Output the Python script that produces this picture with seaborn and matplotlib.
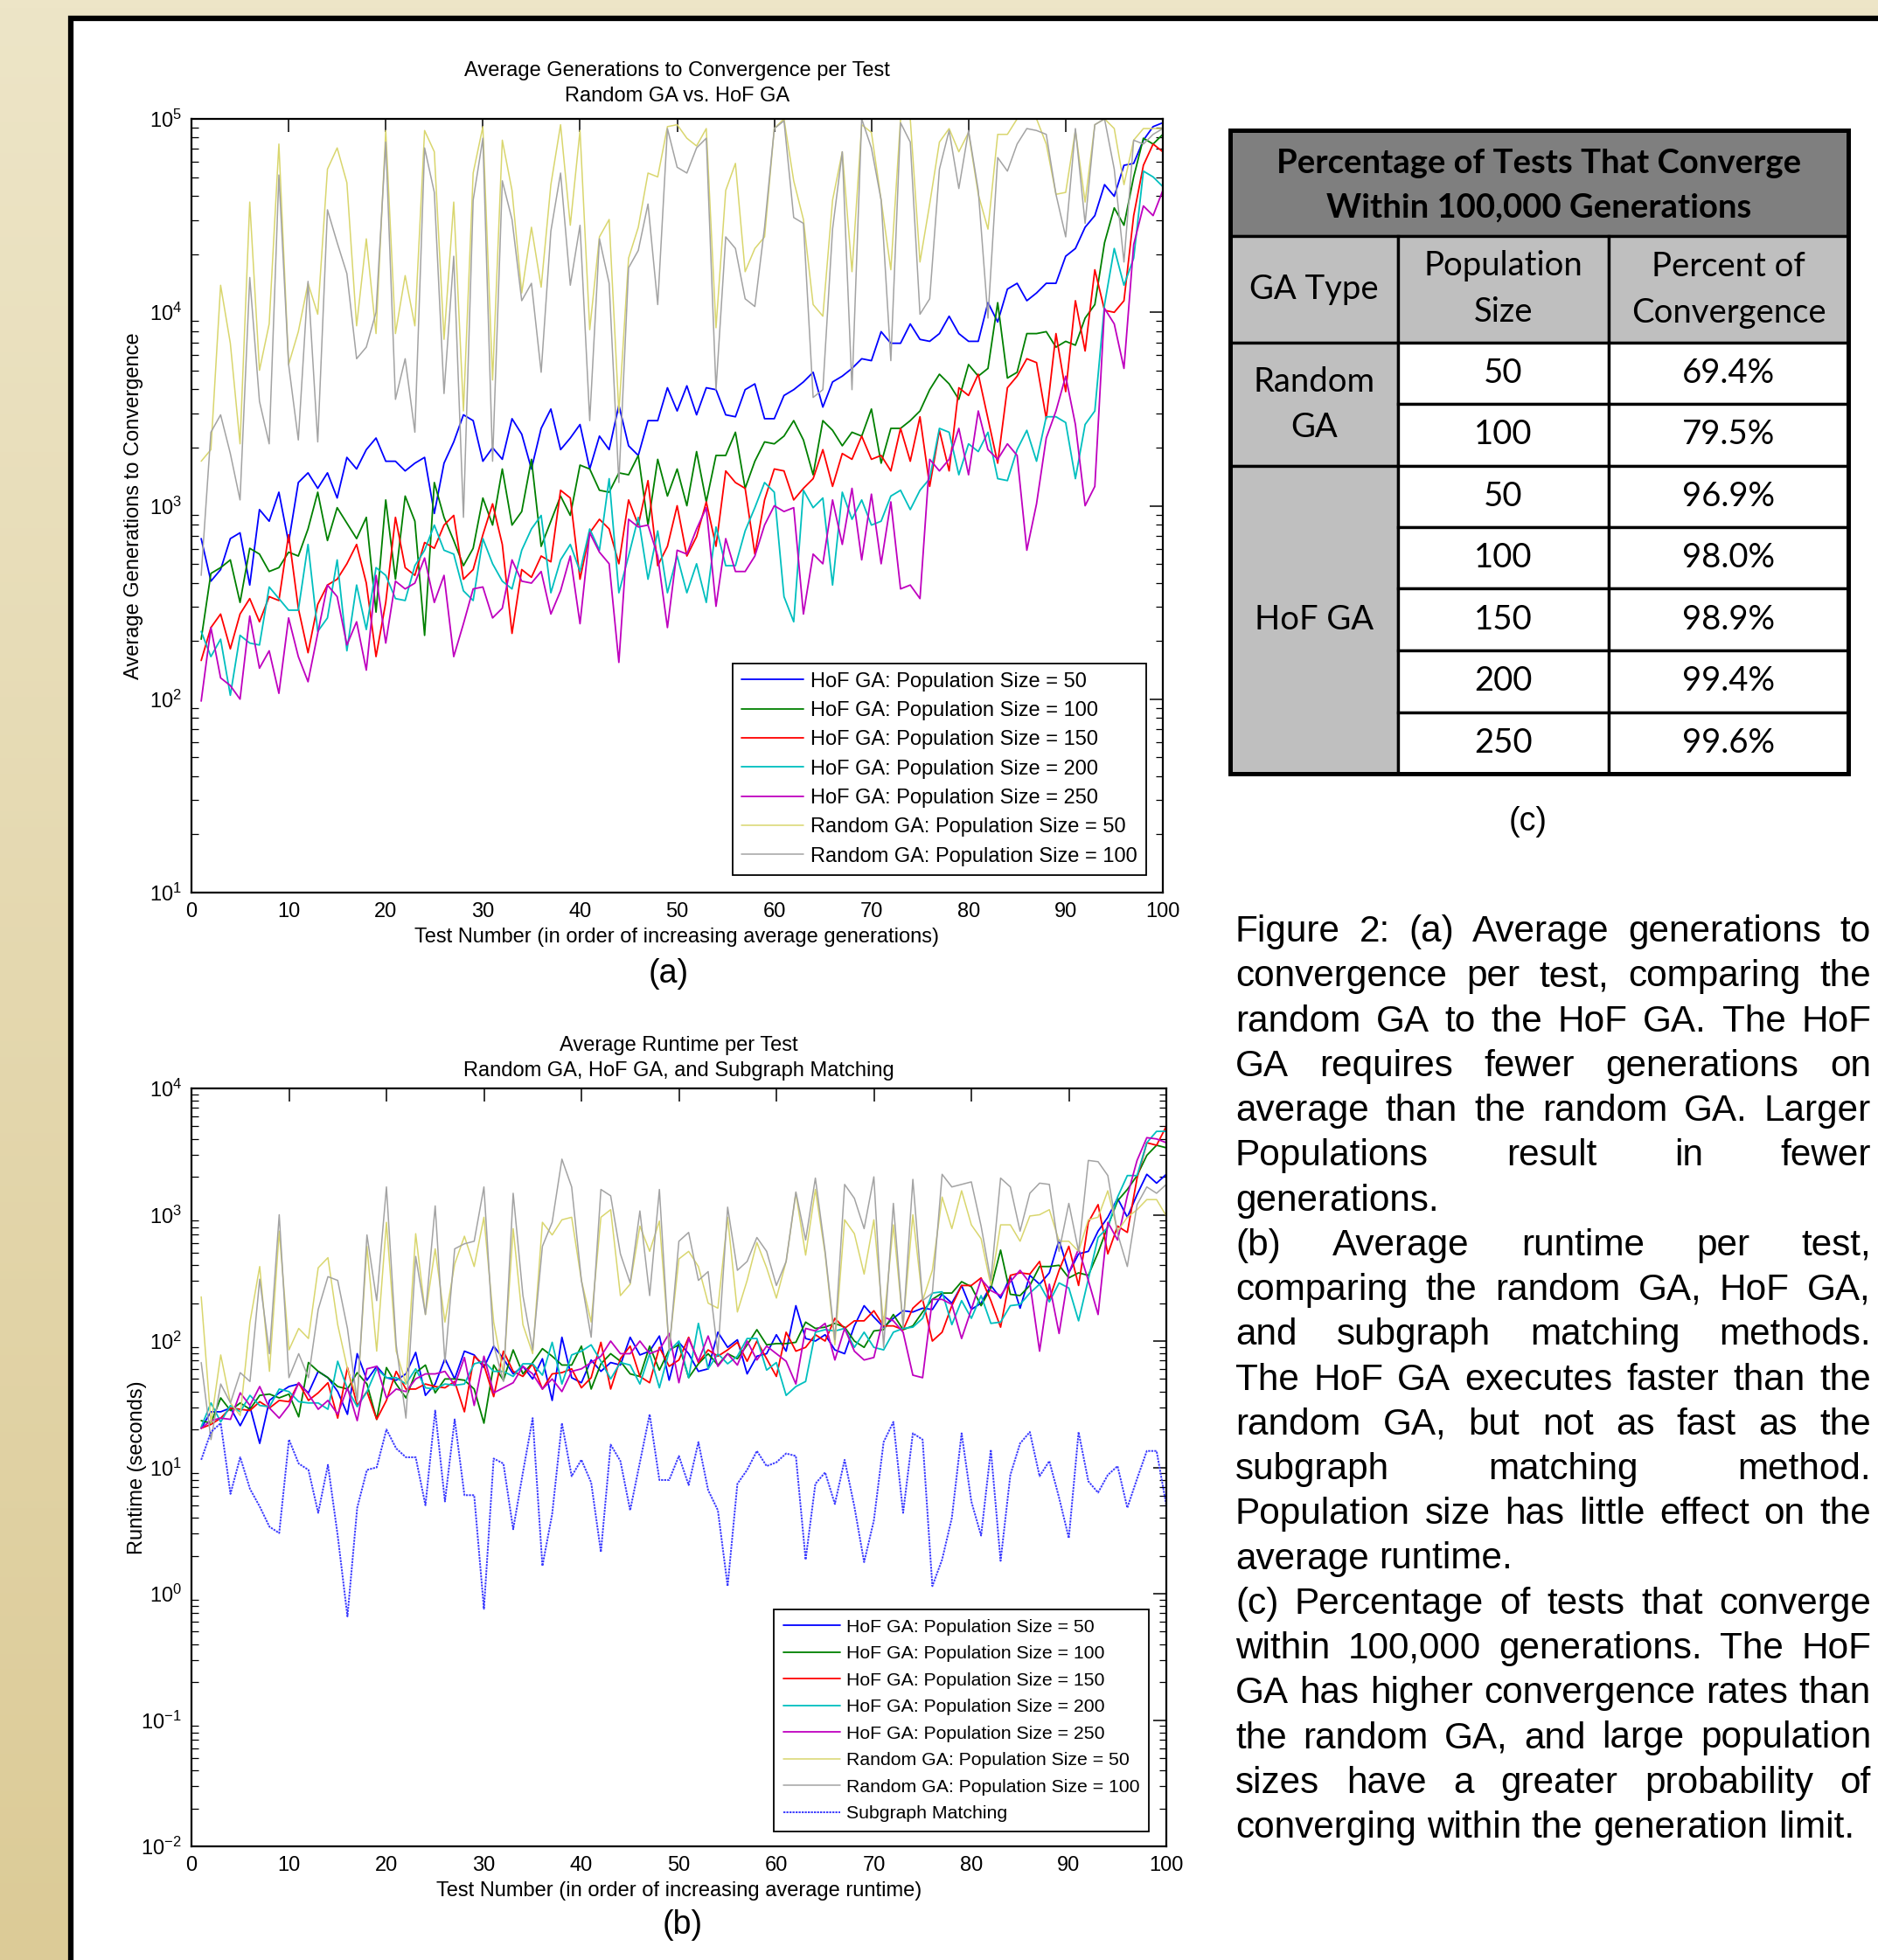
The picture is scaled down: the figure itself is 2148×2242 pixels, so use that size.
import numpy as np
import seaborn as sns
import matplotlib.pyplot as plt
from matplotlib.patches import Rectangle
from matplotlib.colors import LinearSegmentedColormap
from matplotlib.ticker import LogLocator, NullFormatter

W, H = 2148, 2242
tests = np.arange(1, 101)

# ------------------------------------------------------------
# (a) average generations to convergence
#     (values stored as log10 of generations)
# ------------------------------------------------------------
gen_hof50_log = [
    2.83, 2.61, 2.67, 2.83, 2.86, 2.59, 2.98, 2.92, 3.07, 2.81,
    3.12, 3.17, 3.09, 3.17, 3.04, 3.25, 3.19, 3.29, 3.35, 3.23,
    3.23, 3.18, 3.22, 3.25, 2.96, 3.22, 3.33, 3.47, 3.44, 3.23,
    3.30, 3.24, 3.45, 3.37, 3.19, 3.40, 3.50, 3.29, 3.35, 3.42,
    3.19, 3.36, 3.29, 3.52, 3.31, 3.26, 3.44, 3.44, 3.61, 3.49,
    3.62, 3.47, 3.61, 3.60, 3.47, 3.46, 3.60, 3.63, 3.45, 3.45,
    3.57, 3.60, 3.64, 3.69, 3.51, 3.64, 3.67, 3.71, 3.76, 3.75,
    3.90, 3.84, 3.84, 3.94, 3.86, 3.85, 3.89, 3.98, 3.89, 3.85,
    3.85, 4.05, 3.95, 4.12, 4.15, 4.06, 4.10, 4.15, 4.15, 4.29,
    4.33, 4.44, 4.50, 4.66, 4.60, 4.76, 4.77, 4.89, 4.96, 4.98]
gen_hof100_log = [
    2.31, 2.65, 2.68, 2.72, 2.50, 2.78, 2.75, 2.66, 2.68, 2.76,
    2.74, 2.88, 3.07, 2.82, 2.99, 2.91, 2.83, 2.94, 2.45, 3.03,
    2.62, 3.05, 2.92, 2.33, 3.12, 2.94, 2.82, 2.69, 2.78, 3.04,
    2.90, 3.19, 2.90, 2.97, 3.24, 2.79, 2.92, 3.05, 2.95, 3.21,
    3.19, 3.08, 3.07, 3.17, 3.16, 3.26, 2.90, 3.24, 3.05, 3.19,
    3.00, 3.28, 3.02, 3.26, 3.26, 3.38, 3.09, 3.23, 3.33, 3.32,
    3.36, 3.44, 3.34, 3.16, 3.44, 3.39, 3.31, 3.38, 3.36, 3.50,
    3.22, 3.40, 3.40, 3.44, 3.49, 3.60, 3.68, 3.63, 3.55, 3.73,
    3.67, 3.71, 4.05, 3.66, 3.69, 3.89, 3.89, 3.90, 3.82, 3.85,
    3.83, 3.97, 4.04, 4.36, 4.54, 4.45, 4.70, 4.90, 4.87, 4.92]
gen_hof150_log = [
    2.20, 2.37, 2.44, 2.26, 2.44, 2.52, 2.40, 2.53, 2.51, 2.85,
    2.47, 2.24, 2.49, 2.59, 2.62, 2.70, 2.80, 2.60, 2.22, 2.50,
    2.94, 2.68, 2.64, 2.81, 2.78, 2.90, 2.95, 2.62, 2.67, 2.85,
    3.01, 2.80, 2.34, 2.67, 2.63, 2.74, 2.71, 3.08, 3.04, 2.62,
    2.86, 2.93, 2.88, 2.70, 3.03, 2.90, 3.13, 2.69, 2.79, 3.00,
    2.74, 2.84, 3.02, 2.79, 3.18, 3.12, 3.09, 2.75, 3.03, 3.19,
    3.18, 3.03, 3.09, 3.14, 3.29, 3.10, 3.27, 3.24, 3.36, 3.24,
    3.26, 3.18, 3.40, 3.23, 3.46, 3.10, 3.39, 3.18, 3.61, 3.57,
    3.68, 3.45, 3.22, 3.61, 3.67, 3.76, 3.74, 3.45, 3.89, 3.59,
    4.06, 3.80, 4.22, 4.01, 4.00, 4.06, 4.50, 4.76, 4.87, 4.83]
gen_hof200_log = [
    2.35, 2.22, 2.31, 2.02, 2.33, 2.29, 2.28, 2.58, 2.52, 2.46,
    2.46, 2.80, 2.35, 2.42, 2.72, 2.25, 2.59, 2.36, 2.68, 2.64,
    2.52, 2.51, 2.69, 2.77, 2.90, 2.77, 2.75, 2.56, 2.51, 2.83,
    2.70, 2.61, 2.57, 2.77, 2.88, 2.95, 2.55, 2.72, 2.80, 2.66,
    2.88, 2.77, 3.14, 2.55, 2.74, 2.94, 2.62, 2.87, 2.55, 2.74,
    2.55, 2.70, 2.50, 2.89, 2.69, 2.69, 2.87, 2.99, 3.12, 3.07,
    2.53, 2.40, 3.08, 2.99, 3.04, 2.59, 3.07, 2.93, 3.03, 2.90,
    2.92, 3.05, 3.08, 2.98, 3.08, 3.14, 3.40, 3.38, 3.16, 3.32,
    3.28, 3.38, 3.14, 3.13, 3.29, 3.39, 3.23, 3.46, 3.46, 3.43,
    3.14, 3.42, 3.49, 4.04, 4.33, 4.14, 4.28, 4.73, 4.70, 4.65]
gen_hof250_log = [
    1.99, 2.37, 2.11, 2.07, 2.00, 2.43, 2.16, 2.25, 2.03, 2.42,
    2.22, 2.09, 2.34, 2.59, 2.53, 2.28, 2.40, 2.15, 2.64, 2.29,
    2.61, 2.57, 2.60, 2.73, 2.50, 2.64, 2.22, 2.39, 2.57, 2.58,
    2.42, 2.47, 2.72, 2.61, 2.60, 2.66, 2.44, 2.56, 2.74, 2.39,
    2.86, 2.76, 2.70, 2.19, 2.93, 2.89, 2.90, 2.74, 2.37, 2.77,
    2.75, 2.88, 2.99, 2.48, 2.83, 2.66, 2.66, 2.74, 2.90, 3.00,
    2.97, 2.99, 2.44, 2.75, 2.70, 3.03, 2.80, 3.09, 2.72, 3.06,
    2.70, 3.02, 2.57, 2.59, 2.52, 3.24, 3.18, 3.24, 3.40, 3.16,
    3.49, 3.29, 3.24, 3.32, 3.26, 2.77, 3.01, 3.35, 3.49, 3.67,
    3.42, 3.00, 3.10, 4.02, 3.94, 3.71, 4.35, 4.55, 4.50, 4.63]
gen_rand50_log = [
    3.23, 3.29, 4.14, 3.84, 3.32, 4.57, 3.70, 3.94, 4.87, 3.73,
    3.90, 4.15, 3.99, 4.74, 4.85, 4.67, 3.93, 4.38, 3.89, 4.94,
    3.89, 4.19, 3.93, 4.94, 4.83, 3.86, 4.57, 3.49, 4.72, 4.96,
    3.65, 4.89, 4.63, 4.10, 4.44, 4.13, 4.66, 4.97, 4.45, 4.94,
    3.91, 4.39, 4.48, 3.48, 4.28, 4.44, 4.72, 4.70, 4.96, 4.97,
    4.90, 4.86, 4.95, 3.92, 4.63, 4.77, 4.21, 4.33, 4.39, 4.95,
    5.00, 4.68, 4.48, 4.04, 3.98, 4.58, 4.83, 4.21, 4.97, 4.93,
    4.58, 4.22, 5.00, 5.00, 4.26, 4.56, 4.88, 4.95, 4.83, 4.93,
    4.61, 4.43, 4.92, 4.92, 5.00, 5.00, 5.00, 4.87, 4.61, 4.62,
    4.94, 4.57, 4.97, 5.00, 4.95, 4.66, 4.89, 4.95, 4.95, 4.95]
gen_rand100_log = [
    2.64, 3.38, 3.47, 3.27, 3.03, 4.18, 3.54, 3.32, 4.71, 3.73,
    3.34, 4.16, 3.33, 4.53, 4.36, 4.20, 3.76, 3.82, 4.00, 4.88,
    3.55, 3.76, 3.38, 4.85, 4.62, 3.58, 4.29, 2.94, 4.58, 4.90,
    3.23, 4.68, 4.48, 4.06, 4.15, 3.69, 4.42, 4.72, 4.14, 4.45,
    3.44, 4.38, 4.15, 3.12, 4.23, 4.32, 4.56, 4.04, 4.95, 4.75,
    4.72, 4.85, 4.90, 3.60, 4.39, 4.33, 4.07, 4.03, 4.44, 4.95,
    4.99, 4.49, 4.46, 3.56, 3.60, 4.43, 4.83, 3.60, 5.00, 4.85,
    4.58, 3.75, 4.98, 4.88, 3.99, 4.07, 4.74, 4.94, 4.64, 4.94,
    4.63, 3.97, 4.80, 4.73, 4.87, 4.95, 4.94, 4.92, 4.61, 4.39,
    4.95, 4.46, 4.97, 5.00, 4.74, 4.26, 4.89, 4.87, 4.92, 4.95]

# ------------------------------------------------------------
# (b) average runtime in seconds (log10 of seconds)
# ------------------------------------------------------------
rt_hof50_log = [
    1.31, 1.44, 1.44, 1.47, 1.33, 1.48, 1.19, 1.53, 1.59, 1.64,
    1.66, 1.59, 1.76, 1.71, 1.60, 1.42, 1.90, 1.69, 1.80, 1.71,
    1.69, 1.74, 1.91, 1.57, 1.66, 1.86, 1.70, 1.92, 1.89, 1.79,
    1.96, 1.86, 1.74, 1.80, 1.70, 1.86, 1.53, 2.03, 1.71, 1.67,
    1.85, 1.76, 1.83, 1.81, 2.03, 1.89, 1.92, 2.04, 1.69, 1.99,
    1.90, 1.76, 1.78, 2.07, 1.95, 2.01, 1.74, 1.88, 1.90, 2.05,
    1.92, 2.28, 2.02, 2.00, 2.05, 1.93, 1.90, 2.12, 2.28, 2.19,
    2.11, 2.18, 2.24, 2.23, 2.26, 2.25, 2.37, 2.30, 2.44, 2.25,
    2.30, 2.44, 2.34, 2.51, 2.26, 2.52, 2.45, 2.54, 2.80, 2.54,
    2.69, 2.71, 2.87, 2.98, 3.13, 2.98, 3.16, 3.32, 3.25, 3.32]
rt_hof100_log = [
    1.37, 1.35, 1.55, 1.45, 1.51, 1.46, 1.57, 1.58, 1.55, 1.58,
    1.40, 1.83, 1.76, 1.71, 1.64, 1.62, 1.75, 1.66, 1.38, 1.79,
    1.66, 1.55, 1.75, 1.81, 1.59, 1.70, 1.70, 1.69, 1.62, 1.35,
    1.81, 1.69, 1.93, 1.74, 1.83, 1.94, 1.88, 1.81, 1.81, 1.96,
    1.62, 1.82, 1.90, 1.84, 1.74, 1.72, 1.96, 1.77, 1.93, 1.97,
    1.71, 1.82, 1.90, 1.81, 1.90, 1.86, 1.97, 2.09, 1.97, 1.98,
    1.98, 1.99, 2.15, 2.10, 2.11, 2.14, 2.11, 2.00, 1.95, 2.08,
    2.09, 2.21, 2.09, 2.12, 2.23, 2.33, 2.38, 2.38, 2.47, 2.43,
    2.28, 2.42, 2.72, 2.37, 2.36, 2.44, 2.59, 2.59, 2.60, 2.50,
    2.54, 2.52, 2.70, 2.91, 3.11, 3.20, 3.31, 3.47, 3.55, 3.53]
rt_hof150_log = [
    1.31, 1.34, 1.39, 1.47, 1.46, 1.45, 1.52, 1.47, 1.53, 1.52,
    1.67, 1.53, 1.59, 1.67, 1.39, 1.79, 1.49, 1.60, 1.38, 1.53,
    1.76, 1.62, 1.62, 1.66, 1.64, 1.63, 1.68, 1.44, 1.88, 1.81,
    1.56, 1.92, 1.76, 1.72, 1.82, 1.62, 1.74, 1.75, 1.78, 1.63,
    1.71, 1.99, 1.62, 1.86, 1.96, 1.72, 1.67, 1.95, 1.80, 1.85,
    2.03, 1.83, 1.93, 1.88, 1.93, 1.99, 1.84, 2.00, 1.86, 1.72,
    2.07, 1.92, 1.95, 2.05, 2.00, 2.18, 2.10, 2.16, 2.16, 2.24,
    2.12, 2.12, 2.09, 2.26, 2.33, 2.00, 2.07, 2.28, 2.44, 2.44,
    2.50, 2.32, 2.11, 2.52, 2.54, 2.53, 2.63, 2.33, 2.56, 2.75,
    2.44, 2.94, 3.08, 2.69, 2.91, 2.86, 3.29, 3.57, 3.55, 3.70]
rt_hof200_log = [
    1.32, 1.51, 1.36, 1.49, 1.44, 1.57, 1.49, 1.48, 1.62, 1.60,
    1.52, 1.51, 1.51, 1.46, 1.84, 1.62, 1.48, 1.60, 1.78, 1.71,
    1.71, 1.66, 1.78, 1.63, 1.62, 1.66, 1.65, 1.66, 1.82, 1.84,
    1.76, 1.76, 1.72, 1.82, 1.82, 1.73, 1.99, 1.66, 1.89, 1.92,
    1.97, 1.84, 1.70, 1.83, 1.81, 1.66, 1.90, 1.63, 1.92, 2.00,
    1.71, 2.14, 1.78, 1.90, 1.82, 1.88, 2.02, 2.02, 1.77, 1.83,
    1.57, 1.64, 1.68, 2.07, 2.09, 2.08, 2.10, 1.95, 2.07, 1.95,
    1.93, 2.07, 2.10, 2.11, 2.18, 2.38, 2.39, 2.13, 2.32, 2.18,
    2.36, 2.14, 2.15, 2.28, 2.29, 2.38, 2.45, 2.31, 2.46, 2.42,
    2.16, 2.49, 2.82, 2.90, 3.14, 3.31, 3.31, 3.57, 3.66, 3.66]
rt_hof250_log = [
    1.31, 1.37, 1.39, 1.38, 1.59, 1.49, 1.64, 1.47, 1.39, 1.49,
    1.67, 1.58, 1.46, 1.53, 1.42, 1.63, 1.37, 1.78, 1.80, 1.55,
    1.62, 1.60, 1.70, 1.74, 1.74, 1.76, 1.65, 1.87, 1.49, 1.88,
    1.59, 1.63, 1.67, 1.80, 1.74, 1.62, 1.70, 1.60, 1.76, 1.78,
    1.83, 1.88, 2.00, 1.90, 1.90, 2.00, 1.90, 1.93, 2.06, 1.67,
    2.02, 1.84, 2.04, 1.80, 1.90, 1.81, 2.00, 1.85, 1.96, 1.90,
    1.84, 1.66, 2.10, 2.08, 2.14, 1.85, 2.10, 1.92, 1.85, 1.87,
    2.19, 2.16, 2.07, 1.73, 1.71, 2.33, 2.33, 2.29, 2.02, 2.25,
    2.49, 2.40, 2.36, 2.47, 2.56, 2.46, 1.92, 2.45, 2.06, 2.54,
    2.73, 2.48, 2.21, 2.94, 2.80, 3.15, 3.43, 3.61, 3.60, 3.57]
rt_rand50_log = [
    2.35, 1.35, 1.89, 1.51, 1.41, 2.15, 2.59, 1.76, 2.87, 1.93,
    2.10, 2.02, 2.58, 2.66, 2.13, 1.78, 1.55, 2.75, 1.92, 2.94,
    1.92, 1.66, 2.85, 2.21, 2.73, 2.15, 2.61, 2.83, 2.59, 2.98,
    2.15, 1.74, 2.89, 2.13, 1.90, 2.94, 2.84, 2.96, 2.98, 2.48,
    2.15, 2.98, 3.04, 2.36, 2.45, 2.91, 2.71, 2.95, 1.95, 2.65,
    2.71, 2.59, 2.30, 2.26, 2.98, 2.23, 2.48, 2.78, 2.58, 2.34,
    2.63, 3.17, 2.68, 3.20, 2.69, 1.97, 2.96, 2.85, 2.53, 2.96,
    2.13, 2.92, 2.13, 3.00, 2.32, 2.56, 3.14, 2.89, 3.19, 2.92,
    2.81, 2.44, 2.92, 2.92, 2.79, 2.99, 3.00, 3.04, 2.79, 2.79,
    2.71, 2.96, 2.98, 3.19, 2.87, 2.98, 3.04, 3.12, 3.12, 2.99]
rt_rand100_log = [
    1.83, 1.22, 1.66, 1.51, 1.75, 1.68, 2.49, 1.90, 3.00, 1.71,
    1.90, 1.71, 2.25, 2.51, 2.48, 2.10, 1.52, 2.84, 2.32, 3.22,
    1.97, 1.39, 2.67, 2.21, 3.07, 1.83, 2.73, 2.77, 2.79, 3.22,
    1.97, 1.68, 3.17, 2.36, 1.93, 2.75, 2.94, 3.44, 3.22, 2.48,
    2.03, 3.20, 3.15, 2.69, 2.46, 3.03, 2.36, 3.20, 1.92, 2.79,
    2.86, 2.48, 2.55, 1.90, 3.06, 2.56, 2.63, 2.82, 2.71, 2.44,
    2.63, 3.18, 2.80, 3.29, 2.71, 2.01, 3.24, 3.13, 2.89, 3.30,
    1.95, 3.09, 2.11, 3.28, 2.32, 2.38, 3.32, 3.22, 3.24, 3.26,
    2.91, 2.48, 3.29, 3.22, 2.87, 3.17, 3.25, 3.24, 2.71, 3.09,
    2.71, 3.43, 3.42, 3.31, 2.85, 2.59, 3.08, 3.22, 3.17, 3.24]
rt_subgraph_log = [
    1.06, 1.28, 1.35, 0.79, 1.08, 0.83, 0.69, 0.53, 0.48, 1.22,
    1.03, 0.98, 0.64, 1.02, 0.46, -0.18, 0.68, 0.98, 1.00, 1.30,
    1.15, 1.08, 1.08, 0.70, 1.45, 0.73, 1.38, 0.78, 0.78, -0.12,
    1.07, 1.03, 0.51, 0.96, 1.39, 0.22, 0.63, 1.35, 0.93, 1.06,
    0.88, 0.33, 1.18, 1.05, 0.66, 1.04, 1.42, 0.90, 0.90, 1.09,
    0.86, 1.20, 0.82, 0.66, 0.06, 0.87, 0.98, 1.13, 1.01, 1.04,
    1.11, 1.09, 0.27, 0.87, 0.96, 0.71, 1.06, 0.69, 0.25, 0.58,
    1.20, 1.36, 0.64, 1.27, 1.22, 0.06, 0.27, 0.60, 1.27, 0.73,
    0.46, 1.14, 0.26, 0.94, 1.19, 1.28, 0.93, 1.05, 0.76, 0.44,
    1.28, 0.89, 0.80, 0.94, 1.01, 0.68, 0.91, 1.13, 1.13, 0.70]

# ------------------------------------------------------------
# (c) table
# ------------------------------------------------------------
table_title = ['Percentage of Tests That Converge', 'Within 100,000 Generations']
table_columns = [['GA Type'], ['Population', 'Size'], ['Percent of', 'Convergence']]
ga_groups = [(['Random', 'GA'], 2), (['HoF GA'], 5)]
pop_sizes = ['50', '100', '50', '100', '150', '200', '250']
pct_converge = ['69.4%', '79.5%', '96.9%', '98.0%', '98.9%', '99.4%', '99.6%']

caption_lines = [
    "Figure 2: (a) Average generations to",
    "convergence per test, comparing the",
    "random GA to the HoF GA.  The HoF",
    "GA requires fewer generations on",
    "average than the random GA.  Larger",
    "Populations result in fewer",
    "generations.",
    "(b) Average runtime per test,",
    "comparing the random GA, HoF GA,",
    "and subgraph matching methods.",
    "The HoF GA executes faster than the",
    "random GA, but not as fast as the",
    "subgraph matching method.",
    "Population size has little effect on the",
    "average runtime.",
    "(c) Percentage of tests that converge",
    "within 100,000 generations.  The HoF",
    "GA has higher convergence rates than",
    "the random GA, and large population",
    "sizes have a greater probability of",
    "converging within the generation limit.",
]
caption_para_end = {6, 14, 20}

hof_labels = ['HoF GA: Population Size = %d' % p for p in (50, 100, 150, 200, 250)]
rand_labels = ['Random GA: Population Size = 50', 'Random GA: Population Size = 100']
hof_colors = ['#0000ff', '#008000', '#ff0000', '#00bfbf', '#bf00bf']
rand_colors = ['#d9d66e', '#a3a3a3']

# ============================================================
# STYLE
# ============================================================
sns.set_theme(style='white', rc={'axes.edgecolor': 'black', 'text.color': 'black',
                                 'axes.labelcolor': 'black', 'xtick.color': 'black',
                                 'ytick.color': 'black'})
plt.rcParams['font.family'] = ['Liberation Sans', 'DejaVu Sans']
plt.rcParams['mathtext.fontset'] = 'custom'
plt.rcParams['mathtext.rm'] = 'Liberation Sans'
plt.rcParams['mathtext.it'] = 'Liberation Sans:italic'
plt.rcParams['mathtext.bf'] = 'Liberation Sans:bold'

fig = plt.figure(figsize=(W / 100, H / 100), dpi=100)

# background: beige gradient, white panel with black frame
bg = fig.add_axes([0, 0, 1, 1], zorder=0)
beige = LinearSegmentedColormap.from_list('beige', ['#ede5c7', '#dccb97'])
bg.imshow(np.linspace(0, 1, 256)[:, None], extent=[0, W, H, 0], cmap=beige, aspect='auto')
bg.add_patch(Rectangle((80.5, 21), W, H, facecolor='white', edgecolor='black', lw=4.5))
bg.set_xlim(0, W)
bg.set_ylim(H, 0)
bg.axis('off')


def style_axes(ax, ymin, ymax):
    ax.set_yscale('log')
    ax.set_xlim(0, 100)
    ax.set_ylim(ymin, ymax)
    ax.set_xticks(range(0, 101, 10))
    ax.yaxis.set_major_locator(LogLocator(base=10, numticks=20))
    ax.yaxis.set_minor_locator(LogLocator(base=10, subs=np.arange(2, 10), numticks=100))
    ax.yaxis.set_minor_formatter(NullFormatter())
    ax.tick_params(which='major', direction='in', length=11, width=1.1, top=True,
                   right=True, labelsize=17, pad=8)
    ax.tick_params(which='minor', direction='in', length=6, width=0.9, left=True, right=True)
    for s in ax.spines.values():
        s.set_linewidth(1.6)
        s.set_color('black')
    ax.grid(False)


# ============================================================
# (a) GENERATIONS
# ============================================================
ax_a = fig.add_axes([219 / W, 1 - 1021 / H, 1111 / W, 885 / H], zorder=2)
gen_series = [gen_hof50_log, gen_hof100_log, gen_hof150_log, gen_hof200_log, gen_hof250_log]
for vals, lab, col in zip(gen_series, hof_labels, hof_colors):
    sns.lineplot(x=tests, y=10 ** np.array(vals), color=col, linewidth=1.3, label=lab, ax=ax_a)
for vals, lab, col in zip([gen_rand50_log, gen_rand100_log], rand_labels, rand_colors):
    sns.lineplot(x=tests, y=10 ** np.array(vals), color=col, linewidth=1.1, label=lab, ax=ax_a)
style_axes(ax_a, 10, 1e5)
ax_a.set_title('Average Generations to Convergence per Test\nRandom GA vs. HoF GA',
               fontsize=17, pad=14.5, linespacing=1.41)
ax_a.set_xlabel('Test Number (in order of increasing average generations)', fontsize=17, labelpad=5)
ax_a.set_ylabel('Average Generations to Convergence', fontsize=17, labelpad=5)
leg = ax_a.legend(loc='lower right', bbox_to_anchor=(0.983, 0.023), fontsize=17, frameon=True,
                  fancybox=False, framealpha=1, edgecolor='black', handlelength=3.0,
                  handletextpad=0.35, labelspacing=0.48, borderpad=0.42, borderaxespad=0)
leg.get_frame().set_linewidth(1.3)

# ============================================================
# (b) RUNTIME
# ============================================================
ax_b = fig.add_axes([219 / W, 1 - 2112 / H, 1115 / W, 867 / H], zorder=2)
rt_series = [rt_hof50_log, rt_hof100_log, rt_hof150_log, rt_hof200_log, rt_hof250_log]
for vals, lab, col in zip(rt_series, hof_labels, hof_colors):
    sns.lineplot(x=tests, y=10 ** np.array(vals), color=col, linewidth=1.3, label=lab, ax=ax_b)
for vals, lab, col in zip([rt_rand50_log, rt_rand100_log], rand_labels, rand_colors):
    sns.lineplot(x=tests, y=10 ** np.array(vals), color=col, linewidth=1.1, label=lab, ax=ax_b)
sns.lineplot(x=tests, y=10 ** np.array(rt_subgraph_log), color='#3a3aff', linewidth=1.4,
             linestyle=(0, (1.2, 0.6)), label='Subgraph Matching', ax=ax_b)
style_axes(ax_b, 1e-2, 1e4)
ax_b.set_title('Average Runtime per Test\nRandom GA, HoF GA, and Subgraph Matching',
               fontsize=17, pad=10, linespacing=1.41)
ax_b.set_xlabel('Test Number (in order of increasing average runtime)', fontsize=17, labelpad=5)
ax_b.set_ylabel('Runtime (seconds)', fontsize=17, labelpad=-4.5)
leg = ax_b.legend(loc='lower right', bbox_to_anchor=(0.982, 0.02), fontsize=15.3, frameon=True,
                  fancybox=False, framealpha=1, edgecolor='black', handlelength=3.05,
                  handletextpad=0.33, labelspacing=0.54, borderpad=0.5, borderaxespad=0)
leg.get_frame().set_linewidth(1.3)

# panel letters
bg.text(765, 1114, '(a)', fontsize=27, ha='center', va='center')
bg.text(781, 2202, '(b)', fontsize=27, ha='center', va='center')
bg.text(1748, 940, '(c)', fontsize=27, ha='center', va='center')

renderer = fig.canvas.get_renderer()


def text_width(s, **kw):
    t = bg.text(W / 2, H / 2, s, **kw)
    w = t.get_window_extent(renderer).width
    t.remove()
    return w


# ============================================================
# (c) TABLE
# ============================================================
col_x = [1407, 1599, 1840, 2114]
row_y = [149, 270, 392, 462, 533, 603, 673, 744, 815, 885]
tfont = 'Lato'
head_size = 30 * 600 / text_width(table_title[0], fontsize=30, family=tfont, weight='bold')
cell_size = 30 * 222 / text_width('Convergence', fontsize=30, family=tfont)
cell_lw = 2.4

bg.add_patch(Rectangle((col_x[0], row_y[0]), col_x[3] - col_x[0], row_y[1] - row_y[0],
                       facecolor='#7f7f7f', edgecolor='black', lw=cell_lw))
for i, line in enumerate(table_title):
    bg.text((col_x[0] + col_x[3]) / 2, 187 + 50 * i, line, fontsize=head_size, family=tfont,
            weight='bold', ha='center', va='center')

for c, lines in enumerate(table_columns):
    bg.add_patch(Rectangle((col_x[c], row_y[1]), col_x[c + 1] - col_x[c], row_y[2] - row_y[1],
                           facecolor='#bfbfbf', edgecolor='black', lw=cell_lw))
    cx = (col_x[c] + col_x[c + 1]) / 2
    cy = (row_y[1] + row_y[2]) / 2
    for i, line in enumerate(lines):
        bg.text(cx, cy + 53 * (i - (len(lines) - 1) / 2), line, fontsize=cell_size, family=tfont,
                ha='center', va='center')

r = 2
for lines, n in ga_groups:
    y0, y1 = row_y[r], row_y[r + n]
    bg.add_patch(Rectangle((col_x[0], y0), col_x[1] - col_x[0], y1 - y0,
                           facecolor='#bfbfbf', edgecolor='black', lw=cell_lw))
    cx = (col_x[0] + col_x[1]) / 2
    for i, line in enumerate(lines):
        bg.text(cx, (y0 + y1) / 2 + 52 * (i - (len(lines) - 1) / 2), line, fontsize=cell_size,
                family=tfont, ha='center', va='center')
    r += n

for k, (pop, pct) in enumerate(zip(pop_sizes, pct_converge)):
    y0, y1 = row_y[2 + k], row_y[3 + k]
    for c, txt in ((1, pop), (2, pct)):
        bg.add_patch(Rectangle((col_x[c], y0), col_x[c + 1] - col_x[c], y1 - y0,
                               facecolor='white', edgecolor='black', lw=cell_lw))
        bg.text((col_x[c] + col_x[c + 1]) / 2, (y0 + y1) / 2, txt, fontsize=cell_size,
                family=tfont, ha='center', va='center')

bg.add_patch(Rectangle((col_x[0], row_y[0]), col_x[3] - col_x[0], row_y[-1] - row_y[0],
                       facecolor='none', edgecolor='black', lw=3.6))

# ============================================================
# CAPTION (justified)
# ============================================================
cap_size = 30 * 705 / text_width('converging within the generation limit.', fontsize=30)
space_w = text_width('a a', fontsize=cap_size) - text_width('aa', fontsize=cap_size)
x_left, x_right = 1413, 2140
for i, line in enumerate(caption_lines):
    y = 1066 + 51.25 * i
    words = line.split()
    texts = [bg.text(x_left, y, w, fontsize=cap_size, ha='left', va='center') for w in words]
    widths = [t.get_window_extent(renderer).width for t in texts]
    if i in caption_para_end or len(words) == 1:
        gap = space_w
    else:
        gap = (x_right - x_left - sum(widths)) / (len(words) - 1)
    x = x_left
    for t, w in zip(texts, widths):
        t.set_x(x)
        x += w + gap

fig.savefig('out.png', dpi=100)
